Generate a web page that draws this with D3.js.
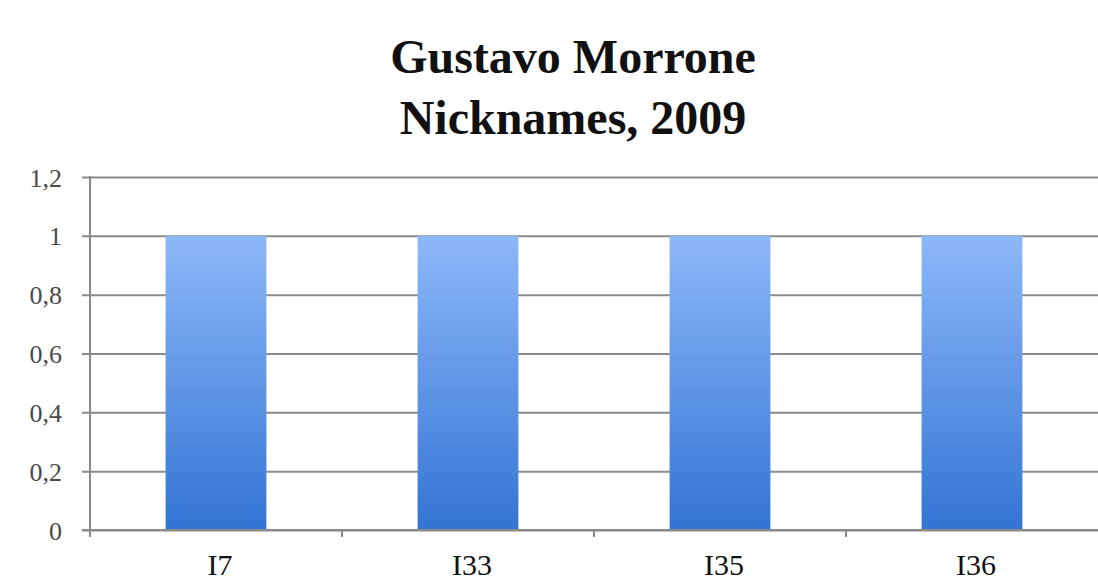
<!DOCTYPE html>
<html>
<head>
<meta charset="utf-8">
<script src="https://cdn.jsdelivr.net/npm/d3@7"></script>
<style>
  html, body { margin: 0; padding: 0; background: #fff; }
  svg { display: block; }
</style>
</head>
<body>
<svg id="chart" width="1098" height="585"></svg>
<script>
// Chart data
const titleLines = ["Gustavo Morrone", "Nicknames, 2009"];
const categories = ["I7", "I33", "I35", "I36"];
const values = [1, 1, 1, 1];
const yTicks = [0, 0.2, 0.4, 0.6, 0.8, 1, 1.2];
const yTickLabels = ["0", "0,2", "0,4", "0,6", "0,8", "1", "1,2"];

const W = 1098, H = 585;
const margin = { top: 177, right: 0, bottom: 55, left: 90 };

const svg = d3.select("#chart");

// Vertical gradient for the bars
const defs = svg.append("defs");
const grad = defs.append("linearGradient")
  .attr("id", "barFill")
  .attr("x1", 0).attr("y1", 0).attr("x2", 0).attr("y2", 1);
grad.append("stop").attr("offset", "0%").attr("stop-color", "#8db8f8");
grad.append("stop").attr("offset", "100%").attr("stop-color", "#3374d4");

const x = d3.scaleBand()
  .domain(categories)
  .range([margin.left, W - margin.right])
  .paddingInner(0.6)
  .paddingOuter(0.3);

const y = d3.scaleLinear()
  .domain([0, 1.2])
  .range([H - margin.bottom, margin.top]);

// Title
const title = svg.append("text")
  .attr("x", 573)
  .attr("y", 73)
  .attr("text-anchor", "middle")
  .style("font-family", "'Liberation Serif', 'DejaVu Serif', serif")
  .style("font-weight", "bold")
  .style("font-size", "48px")
  .attr("fill", "#111");
title.selectAll("tspan")
  .data(titleLines)
  .join("tspan")
  .attr("x", 573)
  .attr("dy", (d, i) => i === 0 ? 0 : 61)
  .text(d => d);

// Horizontal gridlines with y ticks
const yAxis = d3.axisLeft(y)
  .tickValues(yTicks)
  .tickFormat((d, i) => yTickLabels[i])
  .tickSize(-(W - margin.left - margin.right))
  .tickSizeOuter(0)
  .tickPadding(0);

const gy = svg.append("g")
  .attr("transform", `translate(${margin.left},0)`)
  .call(yAxis);
gy.select(".domain").remove();
gy.selectAll(".tick line")
  .attr("x1", -8)
  .attr("stroke", "#8a8a8a")
  .attr("stroke-width", 2);
gy.selectAll(".tick text")
  .attr("x", -28)
  .attr("dy", "0.35em")
  .style("font-family", "'Liberation Serif', serif")
  .style("font-size", "26px")
  .attr("fill", "#4a4a4a");

// Bars
svg.append("g")
  .selectAll("rect")
  .data(categories.map((c, i) => ({ c, v: values[i] })))
  .join("rect")
  .attr("x", d => x(d.c))
  .attr("y", d => y(d.v))
  .attr("width", x.bandwidth())
  .attr("height", d => y(0) - y(d.v))
  .attr("fill", "url(#barFill)");

// Bottom category axis
const gx = svg.append("g")
  .attr("transform", `translate(0,${y(0)})`);
gx.append("line")
  .attr("x1", margin.left - 8).attr("x2", W)
  .attr("stroke", "#8a8a8a").attr("stroke-width", 2);
// Tick marks between categories
const step = x.step();
gx.selectAll("line.sep")
  .data(categories.slice(1))
  .join("line")
  .attr("class", "sep")
  .attr("x1", d => x(d) - x.paddingInner() * step / 2)
  .attr("x2", d => x(d) - x.paddingInner() * step / 2)
  .attr("y1", 0).attr("y2", 7)
  .attr("stroke", "#8a8a8a").attr("stroke-width", 2);
gx.selectAll("text")
  .data(categories)
  .join("text")
  .attr("x", d => x(d) + x.bandwidth() / 2 + 4)
  .attr("y", 45)
  .attr("text-anchor", "middle")
  .style("font-family", "'Liberation Serif', serif")
  .style("font-size", "30px")
  .attr("fill", "#111")
  .text(d => d);

// Vertical value axis line
svg.append("line")
  .attr("x1", margin.left).attr("x2", margin.left)
  .attr("y1", y(1.2) - 1).attr("y2", y(0) + 7)
  .attr("stroke", "#8a8a8a").attr("stroke-width", 2);
</script>
</body>
</html>
